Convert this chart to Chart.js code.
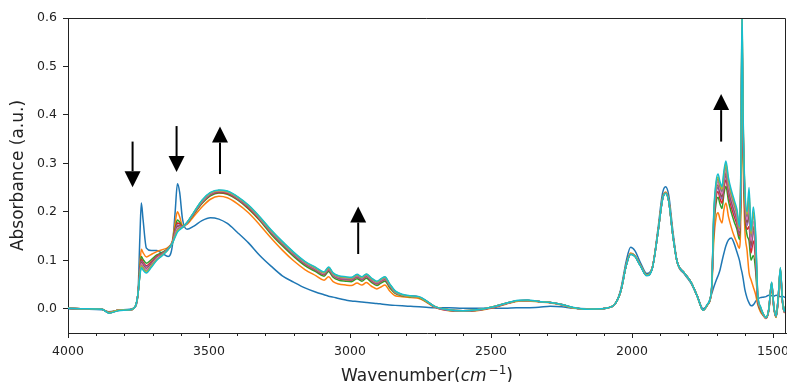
<!DOCTYPE html>
<html>
<head>
<meta charset="utf-8">
<script src="https://cdn.jsdelivr.net/npm/chart.js@4/dist/chart.umd.min.js"></script>
<style>
  html, body { margin: 0; padding: 0; background: #fff; }
  canvas { display: block; }
</style>
</head>
<body>
<canvas id="ir-chart" width="787" height="382"></canvas>
<script>
// wavenumber grid (cm-1)
const wavenumber = [
  4000, 3940, 3880, 3855, 3820, 3780, 3762, 3752, 3745, 3740,
  3734, 3722, 3705, 3685, 3665, 3645, 3630, 3620, 3612, 3604,
  3594, 3578, 3555, 3525, 3495, 3465, 3435, 3400, 3360, 3320,
  3280, 3240, 3200, 3160, 3120, 3092, 3076, 3060, 3040, 3015,
  2995, 2975, 2958, 2942, 2925, 2905, 2890, 2876, 2860, 2840,
  2815, 2785, 2755, 2730, 2700, 2650, 2600, 2550, 2500, 2450,
  2410, 2370, 2330, 2290, 2250, 2210, 2160, 2110, 2085, 2060,
  2040, 2020, 2005, 1990, 1970, 1948, 1928, 1908, 1892, 1881,
  1870, 1855, 1840, 1815, 1790, 1768, 1748, 1732, 1718, 1710,
  1702, 1695, 1688, 1681, 1674, 1667, 1658, 1648, 1638, 1628,
  1619, 1614, 1610, 1606, 1600, 1592, 1585, 1578, 1570, 1562,
  1554, 1545, 1535, 1525, 1515, 1505, 1497, 1489, 1481, 1474,
  1467, 1460, 1454
];

const spec0 = [
  0.000, -0.001, -0.002, -0.006, -0.003, -0.001, 0.004, 0.030, 0.150, 0.218,
  0.185, 0.125, 0.120, 0.120, 0.114, 0.108, 0.130, 0.200, 0.258, 0.240,
  0.185, 0.164, 0.170, 0.182, 0.188, 0.185, 0.176, 0.158, 0.136, 0.110,
  0.088, 0.068, 0.055, 0.043, 0.034, 0.029, 0.026, 0.024, 0.021, 0.018,
  0.016, 0.015, 0.014, 0.013, 0.012, 0.011, 0.010, 0.009, 0.008, 0.007,
  0.006, 0.005, 0.004, 0.003, 0.002, 0.002, 0.001, 0.001, 0.001, 0.001,
  0.002, 0.002, 0.003, 0.005, 0.004, 0.001, 0.000, 0.000, 0.002, 0.010,
  0.040, 0.100, 0.127, 0.120, 0.095, 0.073, 0.085, 0.165, 0.238, 0.252,
  0.235, 0.160, 0.097, 0.072, 0.052, 0.025, 0.000, 0.008, 0.030, 0.045,
  0.058, 0.068, 0.080, 0.098, 0.115, 0.130, 0.142, 0.146, 0.135, 0.117,
  0.100, 0.085, 0.075, 0.062, 0.040, 0.022, 0.012, 0.006, 0.008, 0.015,
  0.020, 0.023, 0.024, 0.025, 0.028, 0.027, 0.026, 0.028, 0.027, 0.025,
  0.026, 0.024, 0.023
];
const spec1 = [
  0.001, 0.000, -0.001, -0.007, -0.003, -0.002, 0.004, 0.030, 0.090, 0.123,
  0.116, 0.107, 0.112, 0.118, 0.122, 0.127, 0.140, 0.178, 0.200, 0.190,
  0.172, 0.174, 0.190, 0.210, 0.226, 0.232, 0.229, 0.217, 0.198, 0.173,
  0.146, 0.121, 0.099, 0.081, 0.068, 0.059, 0.066, 0.056, 0.051, 0.049,
  0.048, 0.053, 0.049, 0.054, 0.047, 0.041, 0.045, 0.049, 0.037, 0.027,
  0.025, 0.023, 0.021, 0.014, 0.003, -0.004, -0.005, -0.004, 0.001, 0.009,
  0.015, 0.016, 0.014, 0.012, 0.008, 0.002, -0.001, 0.000, 0.002, 0.010,
  0.037, 0.092, 0.115, 0.110, 0.090, 0.070, 0.085, 0.160, 0.228, 0.241,
  0.225, 0.152, 0.097, 0.074, 0.054, 0.025, -0.003, 0.008, 0.035, 0.140,
  0.188, 0.198, 0.185, 0.177, 0.205, 0.218, 0.190, 0.168, 0.150, 0.136,
  0.125, 0.200, 0.450, 0.300, 0.165, 0.120, 0.074, 0.060, 0.045, 0.030,
  0.008, -0.006, -0.014, -0.020, -0.005, 0.045, 0.000, -0.018, 0.020, 0.070,
  0.015, -0.008, 0.005
];
const spec2 = [
  0.001, 0.000, -0.001, -0.008, -0.003, -0.002, 0.004, 0.030, 0.081, 0.108,
  0.102, 0.094, 0.101, 0.111, 0.117, 0.125, 0.138, 0.166, 0.183, 0.179,
  0.170, 0.176, 0.194, 0.217, 0.233, 0.239, 0.236, 0.225, 0.206, 0.182,
  0.154, 0.130, 0.108, 0.089, 0.076, 0.067, 0.077, 0.065, 0.059, 0.057,
  0.056, 0.062, 0.057, 0.063, 0.055, 0.048, 0.053, 0.057, 0.044, 0.032,
  0.027, 0.025, 0.023, 0.015, 0.004, -0.003, -0.005, -0.003, 0.002, 0.010,
  0.016, 0.017, 0.015, 0.013, 0.009, 0.002, -0.001, 0.000, 0.002, 0.010,
  0.036, 0.091, 0.113, 0.109, 0.089, 0.069, 0.084, 0.158, 0.226, 0.239,
  0.223, 0.151, 0.097, 0.074, 0.054, 0.025, -0.003, 0.009, 0.037, 0.164,
  0.218, 0.230, 0.216, 0.207, 0.237, 0.253, 0.222, 0.199, 0.180, 0.164,
  0.143, 0.240, 0.520, 0.340, 0.200, 0.152, 0.140, 0.100, 0.110, 0.080,
  0.015, -0.002, -0.013, -0.020, -0.003, 0.048, 0.002, -0.017, 0.024, 0.075,
  0.017, -0.007, 0.007
];
const spec3 = [
  0.001, 0.000, -0.001, -0.008, -0.003, -0.002, 0.004, 0.030, 0.078, 0.102,
  0.096, 0.089, 0.097, 0.108, 0.115, 0.124, 0.137, 0.162, 0.177, 0.175,
  0.169, 0.177, 0.195, 0.219, 0.235, 0.240, 0.238, 0.227, 0.208, 0.184,
  0.157, 0.133, 0.111, 0.092, 0.079, 0.070, 0.080, 0.068, 0.062, 0.060,
  0.059, 0.065, 0.060, 0.066, 0.058, 0.051, 0.056, 0.060, 0.047, 0.034,
  0.028, 0.026, 0.024, 0.016, 0.004, -0.003, -0.004, -0.003, 0.002, 0.010,
  0.016, 0.017, 0.015, 0.013, 0.009, 0.002, -0.001, 0.000, 0.002, 0.010,
  0.036, 0.091, 0.113, 0.109, 0.089, 0.069, 0.084, 0.158, 0.226, 0.239,
  0.223, 0.151, 0.097, 0.074, 0.054, 0.025, -0.003, 0.009, 0.038, 0.173,
  0.229, 0.242, 0.227, 0.218, 0.249, 0.266, 0.234, 0.210, 0.191, 0.174,
  0.150, 0.255, 0.540, 0.355, 0.213, 0.164, 0.170, 0.115, 0.140, 0.100,
  0.018, 0.000, -0.012, -0.019, -0.002, 0.050, 0.003, -0.016, 0.025, 0.078,
  0.017, -0.007, 0.007
];
const spec4 = [
  0.001, 0.000, -0.001, -0.008, -0.003, -0.002, 0.004, 0.030, 0.076, 0.098,
  0.093, 0.086, 0.094, 0.106, 0.114, 0.124, 0.137, 0.159, 0.173, 0.172,
  0.169, 0.177, 0.196, 0.220, 0.236, 0.242, 0.240, 0.228, 0.210, 0.186,
  0.158, 0.134, 0.112, 0.093, 0.080, 0.071, 0.081, 0.069, 0.063, 0.061,
  0.060, 0.066, 0.061, 0.067, 0.059, 0.052, 0.057, 0.061, 0.048, 0.034,
  0.028, 0.026, 0.024, 0.016, 0.004, -0.003, -0.004, -0.003, 0.002, 0.010,
  0.016, 0.017, 0.015, 0.013, 0.009, 0.002, -0.001, 0.000, 0.002, 0.010,
  0.036, 0.091, 0.113, 0.109, 0.089, 0.069, 0.084, 0.158, 0.226, 0.239,
  0.223, 0.151, 0.097, 0.074, 0.054, 0.025, -0.003, 0.009, 0.038, 0.179,
  0.236, 0.250, 0.235, 0.226, 0.257, 0.275, 0.242, 0.218, 0.199, 0.181,
  0.154, 0.265, 0.560, 0.365, 0.222, 0.172, 0.190, 0.125, 0.160, 0.115,
  0.020, 0.001, -0.012, -0.019, -0.002, 0.051, 0.003, -0.016, 0.026, 0.080,
  0.018, -0.007, 0.008
];
const spec5 = [
  0.001, 0.000, -0.001, -0.008, -0.003, -0.002, 0.004, 0.030, 0.074, 0.096,
  0.090, 0.083, 0.093, 0.105, 0.113, 0.123, 0.136, 0.156, 0.170, 0.171,
  0.169, 0.177, 0.196, 0.221, 0.237, 0.242, 0.240, 0.229, 0.211, 0.187,
  0.159, 0.135, 0.113, 0.094, 0.081, 0.072, 0.082, 0.070, 0.064, 0.062,
  0.061, 0.067, 0.062, 0.068, 0.060, 0.053, 0.058, 0.062, 0.049, 0.035,
  0.029, 0.026, 0.024, 0.016, 0.005, -0.002, -0.004, -0.002, 0.003, 0.011,
  0.016, 0.017, 0.015, 0.013, 0.009, 0.002, -0.001, 0.000, 0.002, 0.010,
  0.036, 0.091, 0.113, 0.109, 0.089, 0.069, 0.084, 0.158, 0.226, 0.239,
  0.223, 0.151, 0.097, 0.074, 0.054, 0.025, -0.003, 0.009, 0.039, 0.183,
  0.241, 0.256, 0.240, 0.231, 0.263, 0.281, 0.248, 0.223, 0.204, 0.186,
  0.157, 0.272, 0.570, 0.372, 0.228, 0.178, 0.200, 0.130, 0.170, 0.125,
  0.022, 0.002, -0.011, -0.019, -0.001, 0.052, 0.004, -0.016, 0.027, 0.081,
  0.018, -0.006, 0.008
];
const spec6 = [
  0.001, 0.000, -0.001, -0.008, -0.003, -0.002, 0.004, 0.030, 0.072, 0.093,
  0.087, 0.081, 0.090, 0.104, 0.112, 0.123, 0.136, 0.154, 0.166, 0.168,
  0.169, 0.177, 0.197, 0.222, 0.238, 0.243, 0.241, 0.230, 0.212, 0.187,
  0.160, 0.136, 0.114, 0.095, 0.082, 0.073, 0.083, 0.071, 0.065, 0.063,
  0.062, 0.068, 0.063, 0.069, 0.061, 0.054, 0.059, 0.063, 0.050, 0.035,
  0.029, 0.026, 0.024, 0.016, 0.005, -0.002, -0.004, -0.002, 0.003, 0.011,
  0.016, 0.017, 0.015, 0.013, 0.009, 0.002, -0.001, 0.000, 0.002, 0.010,
  0.036, 0.091, 0.113, 0.109, 0.089, 0.069, 0.084, 0.158, 0.226, 0.239,
  0.223, 0.151, 0.097, 0.074, 0.054, 0.025, -0.003, 0.009, 0.039, 0.188,
  0.247, 0.262, 0.247, 0.237, 0.269, 0.288, 0.254, 0.230, 0.210, 0.191,
  0.161, 0.280, 0.580, 0.380, 0.235, 0.184, 0.215, 0.140, 0.180, 0.135,
  0.024, 0.003, -0.011, -0.019, -0.001, 0.053, 0.004, -0.015, 0.028, 0.082,
  0.019, -0.006, 0.009
];
const spec7 = [
  0.001, 0.000, -0.001, -0.008, -0.003, -0.002, 0.004, 0.030, 0.071, 0.090,
  0.085, 0.078, 0.089, 0.102, 0.112, 0.123, 0.136, 0.152, 0.163, 0.167,
  0.168, 0.178, 0.197, 0.223, 0.239, 0.244, 0.242, 0.231, 0.212, 0.188,
  0.161, 0.137, 0.115, 0.096, 0.083, 0.074, 0.084, 0.072, 0.066, 0.064,
  0.063, 0.069, 0.064, 0.070, 0.062, 0.055, 0.060, 0.064, 0.051, 0.036,
  0.029, 0.026, 0.024, 0.016, 0.005, -0.002, -0.004, -0.002, 0.003, 0.011,
  0.016, 0.017, 0.015, 0.013, 0.009, 0.002, -0.001, 0.000, 0.002, 0.010,
  0.036, 0.091, 0.113, 0.109, 0.089, 0.069, 0.084, 0.158, 0.226, 0.239,
  0.223, 0.151, 0.097, 0.074, 0.054, 0.025, -0.003, 0.009, 0.040, 0.192,
  0.252, 0.268, 0.252, 0.242, 0.275, 0.294, 0.260, 0.235, 0.215, 0.196,
  0.164, 0.287, 0.600, 0.387, 0.241, 0.190, 0.230, 0.148, 0.195, 0.145,
  0.026, 0.004, -0.011, -0.018, 0.000, 0.054, 0.004, -0.015, 0.029, 0.083,
  0.019, -0.006, 0.009
];
const spec8 = [
  0.001, 0.000, -0.001, -0.008, -0.003, -0.002, 0.004, 0.030, 0.070, 0.088,
  0.083, 0.076, 0.087, 0.101, 0.111, 0.122, 0.135, 0.150, 0.161, 0.165,
  0.168, 0.178, 0.198, 0.223, 0.239, 0.244, 0.242, 0.231, 0.213, 0.189,
  0.162, 0.138, 0.116, 0.097, 0.084, 0.075, 0.085, 0.073, 0.067, 0.065,
  0.064, 0.070, 0.065, 0.071, 0.063, 0.056, 0.061, 0.065, 0.051, 0.036,
  0.029, 0.026, 0.024, 0.016, 0.005, -0.002, -0.004, -0.002, 0.003, 0.011,
  0.016, 0.017, 0.015, 0.013, 0.009, 0.002, -0.001, 0.000, 0.002, 0.010,
  0.036, 0.091, 0.113, 0.109, 0.089, 0.069, 0.084, 0.158, 0.226, 0.239,
  0.223, 0.151, 0.097, 0.074, 0.054, 0.025, -0.003, 0.009, 0.040, 0.196,
  0.257, 0.272, 0.257, 0.247, 0.279, 0.299, 0.264, 0.240, 0.220, 0.200,
  0.167, 0.293, 0.610, 0.393, 0.246, 0.195, 0.240, 0.155, 0.200, 0.152,
  0.028, 0.004, -0.010, -0.018, 0.000, 0.054, 0.005, -0.015, 0.029, 0.084,
  0.020, -0.005, 0.010
];
const spec9 = [
  0.001, 0.000, -0.001, -0.009, -0.004, -0.002, 0.004, 0.030, 0.068, 0.085,
  0.080, 0.074, 0.085, 0.100, 0.110, 0.122, 0.135, 0.148, 0.158, 0.163,
  0.168, 0.178, 0.198, 0.224, 0.240, 0.245, 0.243, 0.232, 0.214, 0.190,
  0.163, 0.139, 0.117, 0.098, 0.085, 0.076, 0.086, 0.074, 0.068, 0.066,
  0.065, 0.071, 0.066, 0.072, 0.064, 0.057, 0.062, 0.066, 0.052, 0.037,
  0.030, 0.027, 0.025, 0.017, 0.005, -0.002, -0.004, -0.002, 0.003, 0.011,
  0.017, 0.018, 0.015, 0.013, 0.009, 0.003, -0.001, 0.000, 0.002, 0.010,
  0.036, 0.090, 0.112, 0.108, 0.088, 0.068, 0.083, 0.157, 0.225, 0.238,
  0.222, 0.150, 0.097, 0.074, 0.054, 0.025, -0.003, 0.010, 0.040, 0.200,
  0.262, 0.278, 0.262, 0.252, 0.285, 0.305, 0.270, 0.245, 0.225, 0.205,
  0.170, 0.300, 0.620, 0.400, 0.252, 0.200, 0.250, 0.160, 0.210, 0.160,
  0.030, 0.005, -0.010, -0.018, 0.000, 0.055, 0.005, -0.015, 0.030, 0.085,
  0.020, -0.005, 0.010
];

const lineColors = ['#1f77b4', '#ff7f0e', '#2ca02c', '#d62728', '#9467bd',
                    '#8c564b', '#e377c2', '#7f7f7f', '#bcbd22', '#17becf'];

const xMajorTicks = [4000, 3500, 3000, 2500, 2000, 1500];
const xMinorTicks = [3900, 3800, 3700, 3600, 3400, 3300, 3200, 3100, 2900, 2800, 2700, 2600,
                     2400, 2300, 2200, 2100, 1900, 1800, 1700, 1600];
const yTicks = [0, 0.1, 0.2, 0.3, 0.4, 0.5, 0.6];

// arrows: wavenumber, tail value, head value
const arrowX = [3771, 3615, 3461, 2971, 1684];
const arrowTail = [0.345, 0.377, 0.278, 0.113, 0.345];
const arrowHead = [0.251, 0.282, 0.376, 0.211, 0.443];

const spectra = [spec0, spec1, spec2, spec3, spec4, spec5, spec6, spec7, spec8, spec9];

const ink = '#222';

const extras = {
  id: 'extras',
  afterDatasetsDraw(chart) {
    const {ctx, chartArea: a, scales: {x, y}} = chart;
    ctx.save();
    ctx.strokeStyle = ink;
    ctx.lineWidth = 1;
    // top and right frame
    ctx.beginPath();
    ctx.moveTo(a.left, Math.round(a.top) + 0.5);
    ctx.lineTo(Math.round(a.right) - 0.5, Math.round(a.top) + 0.5);
    ctx.lineTo(Math.round(a.right) - 0.5, a.bottom);
    ctx.stroke();
    // minor ticks
    ctx.beginPath();
    xMinorTicks.forEach(v => {
      const px = Math.round(x.getPixelForValue(v)) + 0.5;
      ctx.moveTo(px, a.bottom);
      ctx.lineTo(px, a.bottom + 3);
    });
    ctx.stroke();
    // arrows
    ctx.strokeStyle = '#000';
    ctx.fillStyle = '#000';
    arrowX.forEach((w, i) => {
      const px = x.getPixelForValue(w);
      const y0 = y.getPixelForValue(arrowTail[i]);
      const y1 = y.getPixelForValue(arrowHead[i]);
      const dir = Math.sign(y1 - y0);
      const base = y1 - dir * 16;
      ctx.lineWidth = 2;
      ctx.beginPath();
      ctx.moveTo(px, y0);
      ctx.lineTo(px, base);
      ctx.stroke();
      ctx.beginPath();
      ctx.moveTo(px - 8, base);
      ctx.lineTo(px + 8, base);
      ctx.lineTo(px, y1);
      ctx.closePath();
      ctx.fill();
    });
    ctx.restore();
  },
  afterDraw(chart) {
    const {ctx, chartArea: a} = chart;
    const parts = [
      {t: 'Wavenumber(', f: '17px "DejaVu Sans"', dy: 0},
      {t: 'cm', f: 'italic 17px "DejaVu Sans"', dy: 0},
      {t: '\u22121', f: '12px "DejaVu Sans"', dy: -7},
      {t: ')', f: '17px "DejaVu Sans"', dy: 0}
    ];
    ctx.save();
    ctx.fillStyle = ink;
    ctx.textBaseline = 'alphabetic';
    let total = 0;
    parts.forEach(p => { ctx.font = p.f; p.w = ctx.measureText(p.t).width; total += p.w; });
    total += 2;
    let cx = (a.left + a.right) / 2 - total / 2;
    parts.forEach(p => {
      ctx.font = p.f;
      ctx.fillText(p.t, cx, 380.5 + p.dy);
      cx += p.w + (p.t === 'cm' ? 2 : 0);
    });
    ctx.restore();
  }
};

new Chart(document.getElementById('ir-chart'), {
  type: 'line',
  data: {
    datasets: spectra.map((s, i) => ({
      data: s.map((v, k) => ({x: wavenumber[k], y: v})),
      borderColor: lineColors[i],
      backgroundColor: lineColors[i],
      borderWidth: 1.5,
      pointRadius: 0,
      fill: false,
      cubicInterpolationMode: 'monotone',
      order: spectra.length - i
    }))
  },
  options: {
    responsive: false,
    animation: false,
    devicePixelRatio: 1,
    layout: { padding: { top: 18, right: 1, left: 0, bottom: 0 } },
    plugins: { legend: { display: false }, tooltip: { enabled: false } },
    scales: {
      x: {
        type: 'linear',
        reverse: true,
        min: 1454,
        max: 4000,
        afterBuildTicks: s => { s.ticks = xMajorTicks.map(v => ({value: v})); },
        afterFit: s => { s.height = 49; s.paddingLeft = 0; s.paddingRight = 0; },
        ticks: {
          callback: v => String(v),
          font: { family: 'DejaVu Sans', size: 12.5 },
          color: ink,
          padding: 6,
          maxRotation: 0,
          autoSkip: false
        },
        grid: { drawOnChartArea: false, tickLength: 5, tickColor: ink },
        border: { color: ink, width: 1 }
      },
      y: {
        min: -0.05,
        max: 0.6,
        afterBuildTicks: s => { s.ticks = yTicks.map(v => ({value: v})); },
        afterFit: s => { s.width = 68; },
        ticks: {
          callback: v => v.toFixed(1),
          font: { family: 'DejaVu Sans', size: 12.5 },
          color: ink,
          padding: 6
        },
        grid: { drawOnChartArea: false, tickLength: 5, tickColor: ink },
        border: { color: ink, width: 1 },
        title: {
          display: true,
          text: 'Absorbance (a.u.)',
          font: { family: 'DejaVu Sans', size: 17 },
          color: ink,
          padding: { top: 8, bottom: 0 }
        }
      }
    }
  },
  plugins: [extras]
});
</script>
</body>
</html>
